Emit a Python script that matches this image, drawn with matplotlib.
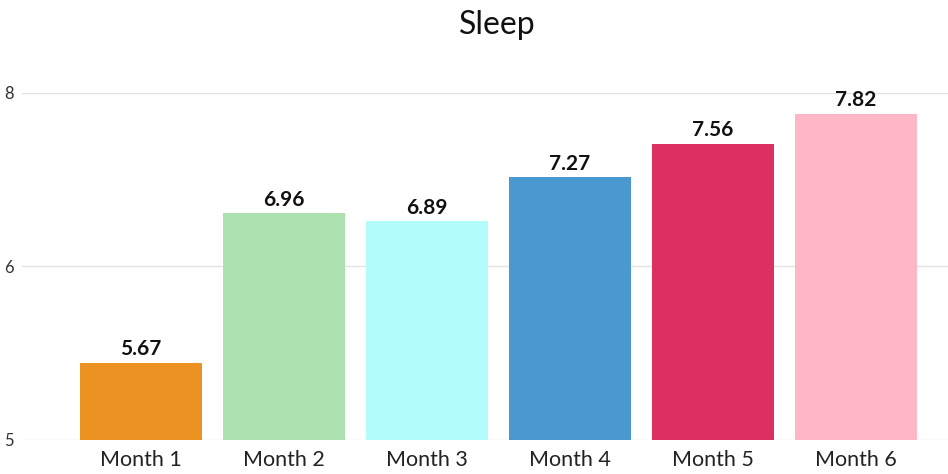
import matplotlib
matplotlib.use("Agg")
import matplotlib.pyplot as plt
from matplotlib.ticker import FormatStrFormatter

categories = ["Month 1", "Month 2", "Month 3", "Month 4", "Month 5", "Month 6"]
values = [5.67, 6.96, 6.89, 7.27, 7.56, 7.82]
colors = ["#EC9222", "#ACE0AE", "#B3FCFC", "#4A98D0", "#DC3060", "#FFB6C6"]
yticks = [5, 6.5, 8]
title = "Sleep"

plt.rcParams['font.family'] = ['Lato', 'DejaVu Sans']

fig = plt.figure(figsize=(9.48, 4.74), dpi=100)
ax = fig.add_axes([22/948, (474-440)/474, (948-22)/948, (440-93)/474])

x = list(range(len(categories)))
bars = ax.bar(x, values, width=0.853, color=colors, zorder=2)

for xi, v in zip(x, values):
    ax.annotate(f"{v:.2f}", (xi, v), xytext=(0, 2.5), textcoords="offset points",
                ha="center", va="bottom", fontsize=15, fontweight="bold",
                color="#111111", clip_on=False)

ax.set_xlim((22-141)/143, (948-141)/143)
ax.set_ylim(5, 8)
ax.set_yticks(yticks)
ax.yaxis.set_major_formatter(FormatStrFormatter('%.0f'))
ax.set_xticks(x)
ax.set_xticklabels(categories, fontsize=15.5, color="#222222")
ax.tick_params(axis='x', length=0, pad=7)
ax.tick_params(axis='y', length=0, labelsize=12, labelcolor="#333333")
for lab in ax.get_yticklabels():
    lab.set_horizontalalignment('left')
ax.yaxis.set_tick_params(pad=13)

ax.grid(axis='y', color="#E3E3E3", linewidth=1, zorder=0)
for s in ax.spines.values():
    s.set_visible(False)

fig.text(0.525, 1 - 25/474, title, ha="center", va="center", fontsize=23, color="#111111")

fig.savefig("out.png", dpi=100)
